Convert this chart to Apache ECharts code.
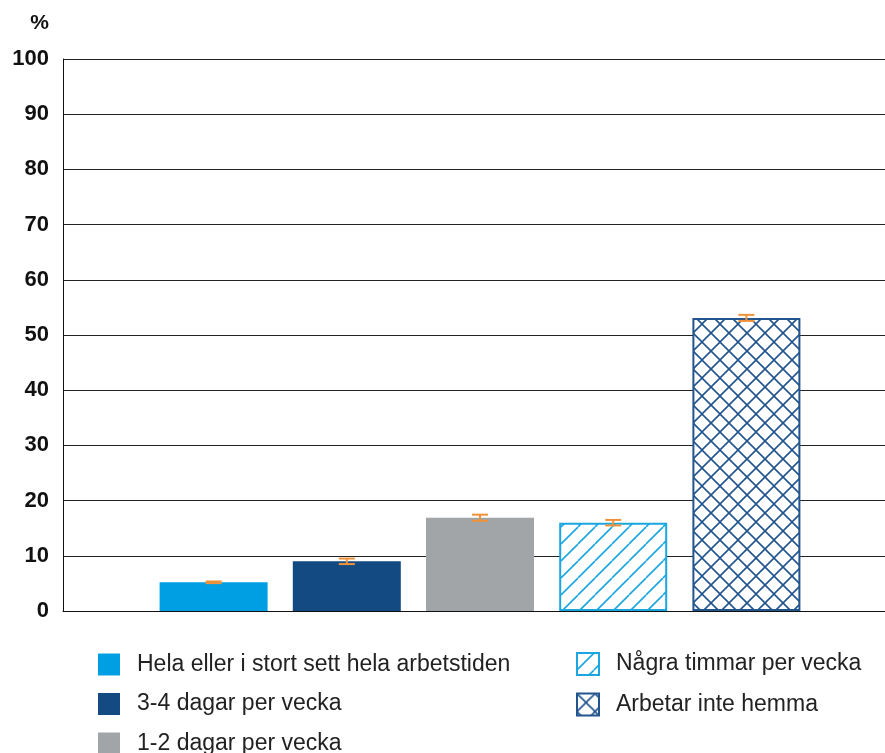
<!DOCTYPE html>
<html>
<head>
<meta charset="utf-8">
<script src="https://cdn.jsdelivr.net/npm/echarts@6/dist/echarts.min.js"></script>
<style>
  html, body { margin: 0; padding: 0; background: #fff; }
  #chart { width: 885px; height: 753px; }
</style>
</head>
<body>
<div id="chart"></div>
<script>
// data
var categories = ['Hela eller i stort sett hela arbetstiden', '3-4 dagar per vecka', '1-2 dagar per vecka', 'Några timmar per vecka', 'Arbetar inte hemma'];
var values = [5.2, 9.0, 16.9, 16.0, 53.1];
var errors = [0.15, 0.5, 0.55, 0.5, 0.55];
var yTicks = [0, 10, 20, 30, 40, 50, 60, 70, 80, 90, 100];

var colors = ['#009fe3', '#144a82', '#a2a5a8', '#1ba6e0', '#22548e'];

// mönster för de två sista staplarna
function hatch(color, size, cross) {
  var c = document.createElement('canvas');
  c.width = size; c.height = size;
  var ctx = c.getContext('2d');
  ctx.fillStyle = '#fff';
  ctx.fillRect(0, 0, size, size);
  ctx.strokeStyle = color;
  ctx.lineWidth = 1.6;
  for (var k = -1; k <= 1; k++) {
    ctx.beginPath();
    ctx.moveTo(k * size, size);
    ctx.lineTo(k * size + size, 0);
    ctx.stroke();
    if (cross) {
      ctx.beginPath();
      ctx.moveTo(k * size, 0);
      ctx.lineTo(k * size + size, size);
      ctx.stroke();
    }
  }
  return c;
}

var styles = [
  { color: colors[0] },
  { color: colors[1] },
  { color: colors[2] },
  { color: { image: hatch(colors[3], 17, false), repeat: 'repeat' }, borderColor: colors[3], borderWidth: 2 },
  { color: { image: hatch(colors[4], 18, true), repeat: 'repeat' }, borderColor: colors[4], borderWidth: 2 }
];

var series = categories.map(function (name, i) {
  return {
    name: name,
    type: 'bar',
    xAxisIndex: 1,
    yAxisIndex: 1,
    barWidth: 108,
    barGap: '-100%',
    itemStyle: styles[i],
    data: values.map(function (v, j) { return j === i ? v : null; })
  };
});

// felstaplar
series.push({
  type: 'custom',
  xAxisIndex: 1,
  yAxisIndex: 1,
  z: 10,
  data: values.map(function (v, i) { return [i, v - errors[i], v + errors[i]]; }),
  renderItem: function (params, api) {
    var lo = api.coord([api.value(0), api.value(1)]);
    var hi = api.coord([api.value(0), api.value(2)]);
    var w = 8;
    var st = { stroke: '#f0923a', lineWidth: 2 };
    return {
      type: 'group',
      children: [
        { type: 'line', shape: { x1: lo[0], y1: lo[1], x2: hi[0], y2: hi[1] }, style: st },
        { type: 'line', shape: { x1: lo[0] - w, y1: lo[1], x2: lo[0] + w, y2: lo[1] }, style: st },
        { type: 'line', shape: { x1: hi[0] - w, y1: hi[1], x2: hi[0] + w, y2: hi[1] }, style: st }
      ]
    };
  }
});

var chart = echarts.init(document.getElementById('chart'));

var legendCommon = {
  orient: 'vertical',
  padding: 0,
  height: 130,
  icon: 'rect', itemWidth: 22, itemHeight: 22, itemGap: 16.5,
  textStyle: { fontSize: 23, color: '#222', lineHeight: 22, padding: [0, 0, 0, 12] },
  selectedMode: false
};

var option = {
  animation: false,
  textStyle: { fontFamily: 'Liberation Sans' },
  grid: [
    { left: 63, right: 0, top: 59, bottom: 142 },
    { left: 147, right: 72, top: 59, bottom: 142 }
  ],
  xAxis: [
    {
      type: 'category', gridIndex: 0, data: [''],
      axisLine: { lineStyle: { color: '#111', width: 1 } },
      axisTick: { show: false }, axisLabel: { show: false }
    },
    { type: 'category', gridIndex: 1, data: categories, show: false }
  ],
  yAxis: [
    {
      type: 'value', gridIndex: 0, min: yTicks[0], max: yTicks[yTicks.length - 1], interval: 10,
      name: '%',
      nameLocation: 'end',
      nameGap: 25,
      nameTextStyle: { color: '#111', fontSize: 21, fontWeight: 'bold', align: 'right', padding: [0, 14, 0, 0] },
      axisLine: { show: true, lineStyle: { color: '#111', width: 1 } },
      axisTick: { show: false },
      axisLabel: { color: '#111', fontSize: 22, fontWeight: 'bold', margin: 14 },
      splitLine: { lineStyle: { color: '#222', width: 1 } }
    },
    { type: 'value', gridIndex: 1, min: 0, max: 100, show: false, splitLine: { show: false } }
  ],
  legend: [
    Object.assign({ data: categories.slice(0, 3), left: 98, top: 653 }, legendCommon),
    Object.assign({ data: categories.slice(3), left: 576, top: 652 }, legendCommon)
  ],
  series: series
};

chart.setOption(option);
</script>
</body>
</html>
